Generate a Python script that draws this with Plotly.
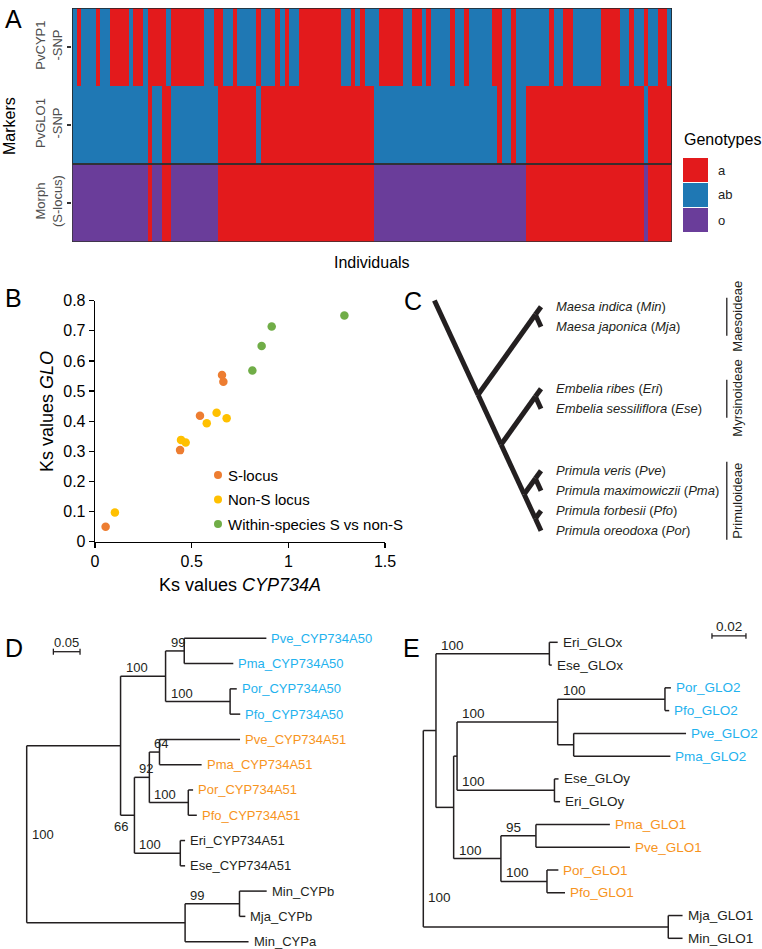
import plotly.graph_objects as go

# ---------------------------------------------------------------- data
GENOTYPES = ["a", "ab", "o"]
GENO_COLORS = ["#E31A1C", "#1F78B4", "#6A3D9A"]
MARKER_LABELS = ["PvCYP1<br>-SNP", "PvGLO1<br>-SNP", "Morph<br>(S-locus)"]

PVCYP1_RUNS = [("ab", 1), ("a", 1), ("ab", 3), ("a", 1), ("ab", 2), ("a", 4), ("ab", 1), ("a", 2),
               ("ab", 1), ("a", 4), ("ab", 1), ("a", 7), ("ab", 2), ("a", 2), ("ab", 2), ("a", 1),
               ("ab", 4), ("a", 1), ("ab", 3), ("a", 1), ("ab", 1), ("a", 1), ("ab", 2), ("a", 9),
               ("ab", 2), ("a", 1), ("ab", 1), ("a", 1), ("ab", 3), ("a", 5), ("ab", 2), ("a", 2),
               ("ab", 1), ("a", 1), ("ab", 4), ("a", 1), ("ab", 2), ("a", 1), ("ab", 5), ("a", 2),
               ("ab", 2), ("a", 1), ("ab", 7), ("a", 1), ("ab", 2), ("a", 2), ("ab", 6), ("a", 4),
               ("ab", 2), ("a", 1), ("ab", 2), ("a", 1), ("ab", 2), ("a", 2), ("ab", 1)]
PVGLO1_RUNS = [("ab", 16), ("a", 1), ("ab", 2), ("a", 2), ("ab", 10), ("a", 8), ("ab", 1), ("a", 24),
               ("ab", 26), ("a", 1), ("ab", 2), ("a", 1), ("ab", 2), ("a", 25), ("ab", 1), ("a", 5)]
MORPH_RUNS = [("o", 16), ("a", 1), ("o", 2), ("a", 2), ("o", 10), ("a", 33), ("o", 32), ("a", 25),
              ("o", 1), ("a", 5)]

S_LOCUS_X = [0.055, 0.440, 0.543, 0.657, 0.664]
S_LOCUS_Y = [0.050, 0.304, 0.418, 0.553, 0.531]
NON_S_X = [0.103, 0.445, 0.469, 0.578, 0.629, 0.681]
NON_S_Y = [0.097, 0.338, 0.329, 0.393, 0.428, 0.410]
WITHIN_X = [0.814, 0.862, 0.914, 1.290]
WITHIN_Y = [0.568, 0.650, 0.714, 0.751]
B_XTICKS = [0, 0.5, 1, 1.5]
B_YTICKS = [0, 0.1, 0.2, 0.3, 0.4, 0.5, 0.6, 0.7, 0.8]

C_NEWICK = "((Min,Mja),((Eri,Ese),((Pve,Pma),(Pfo,Por))));"
C_CODES = ["Min", "Mja", "Eri", "Ese", "Pve", "Pma", "Pfo", "Por"]
C_SPECIES = ["Maesa indica", "Maesa japonica", "Embelia ribes", "Embelia sessiliflora",
             "Primula veris", "Primula maximowiczii", "Primula forbesii", "Primula oreodoxa"]
C_SUBFAMILY = ["Maesoideae", "Maesoideae", "Myrsinoideae", "Myrsinoideae",
               "Primuloideae", "Primuloideae", "Primuloideae", "Primuloideae"]
SUBFAMILIES = ["Maesoideae", "Myrsinoideae", "Primuloideae"]

D_NEWICK = ("((((Pve_CYP734A50:0.154,Pma_CYP734A50:0.092)99:0.035,(Por_CYP734A50:0.0125,"
            "Pfo_CYP734A50:0.019)100:0.121)100:0.0844,(((Pve_CYP734A51:0.151,Pma_CYP734A51:0.079)64:0.019,"
            "(Por_CYP734A51:0.009,Pfo_CYP734A51:0.016)100:0.073)92:0.028,(Eri_CYP734A51:0.009,"
            "Ese_CYP734A51:0.009)100:0.086)66:0.026):0.176,((Min_CYPb:0.051,Mja_CYPb:0.011)99:0.102,"
            "Min_CYPa:0.119):0.297)100;")
D_BLUE = ["Pve_CYP734A50", "Pma_CYP734A50", "Por_CYP734A50", "Pfo_CYP734A50"]
D_ORANGE = ["Pve_CYP734A51", "Pma_CYP734A51", "Por_CYP734A51", "Pfo_CYP734A51"]
D_SCALE = 0.05

E_NEWICK = ("(((Eri_GLOx:0.0049,Ese_GLOx:0.0014)100:0.0667,((((Por_GLO2:0.0035,Pfo_GLO2:0.0025)100:0.0631,"
            "(Pve_GLO2:0.0661,Pma_GLO2:0.0569):0.0094)100:0.0592,(Ese_GLOy:0.0024,Eri_GLOy:0.0033)100:0.0573):0.002,"
            "((Pma_GLO1:0.0435,Pve_GLO1:0.0553)95:0.0206,(Por_GLO1:0.0067,Pfo_GLO1:0.0106)100:0.0271)100:0.0278)"
            ":0.0104):0.00745,(Mja_GLO1:0.0084,Min_GLO1:0.0084):0.1441)100;")
E_BLUE = ["Por_GLO2", "Pfo_GLO2", "Pve_GLO2", "Pma_GLO2"]
E_ORANGE = ["Pma_GLO1", "Pve_GLO1", "Por_GLO1", "Pfo_GLO1"]
E_SCALE = 0.02

# ---------------------------------------------------------------- style
W, H = 762, 949
FONT = "Liberation Sans, Arial, sans-serif"
INK = "#231F20"
CYAN = "#1FB2EE"
ORANGE_TXT = "#F7941D"
S_COL, NS_COL, WS_COL = "#ED7D31", "#FFC000", "#70AD47"


def px(x):
    return x / W


def py(y):
    return 1 - y / H


def ann(text, x, y, xref="paper", yref="paper", size=13, color=INK, xanchor="center",
        yanchor="middle", textangle=0, xshift=0, yshift=0):
    return dict(text=text, x=x, y=y, xref=xref, yref=yref, showarrow=False,
                font=dict(family=FONT, size=size, color=color), xanchor=xanchor,
                yanchor=yanchor, textangle=textangle, xshift=xshift, yshift=yshift)


def parse_newick(s):
    s = s.strip().rstrip(";")
    pos = [0]

    def node():
        children = []
        if s[pos[0]] == "(":
            pos[0] += 1
            while True:
                children.append(node())
                ch = s[pos[0]]
                pos[0] += 1
                if ch == ")":
                    break
        start = pos[0]
        while pos[0] < len(s) and s[pos[0]] not in ":,)":
            pos[0] += 1
        label = s[start:pos[0]]
        length = 0.0
        if pos[0] < len(s) and s[pos[0]] == ":":
            pos[0] += 1
            start = pos[0]
            while pos[0] < len(s) and s[pos[0]] not in ",)":
                pos[0] += 1
            length = float(s[start:pos[0]])
        return {"label": label, "length": length, "children": children}

    return node()


def tips(n):
    if not n["children"]:
        return [n]
    out = []
    for c in n["children"]:
        out += tips(c)
    return out


def internals(n):
    if not n["children"]:
        return []
    out = [n]
    for c in n["children"]:
        out += internals(c)
    return out


fig = go.Figure()
annotations = []
shapes = []

# ---------------------------------------------------------------- A heatmap
code = {g: i for i, g in enumerate(GENOTYPES)}


def expand(runs):
    out = []
    for g, n in runs:
        out += [code[g]] * n
    return out


z = [expand(PVCYP1_RUNS), expand(PVGLO1_RUNS), expand(MORPH_RUNS)]
n_ind = len(z[0])
cs = []
for i, c in enumerate(GENO_COLORS):
    cs += [[i / 3, c], [(i + 1) / 3, c]]
fig.add_trace(go.Heatmap(z=z, x=list(range(n_ind)), y=[0, 1, 2], colorscale=cs, zmin=-0.5, zmax=2.5,
                         showscale=False, hoverinfo="skip", xaxis="x", yaxis="y"))
shapes.append(dict(type="rect", xref="x", yref="y", x0=-0.5, x1=n_ind - 0.5, y0=-0.5, y1=1.5,
                   line=dict(color="#222", width=1.6)))
shapes.append(dict(type="rect", xref="x", yref="y", x0=-0.5, x1=n_ind - 0.5, y0=1.5, y1=2.5,
                   line=dict(color="#333", width=1.4)))
annotations.append(ann("A", px(13.5), py(19), size=25, color="black"))
annotations.append(ann("Markers", px(10), py(126), size=16, color="black", textangle=-90))
annotations.append(ann("Individuals", px(372), py(263), size=16, color="black"))
annotations.append(ann("Genotypes", px(682), py(140), size=16, color="black", xanchor="left"))
for i, g in enumerate(GENOTYPES):
    y0 = 158 + 25 * i
    shapes.append(dict(type="rect", xref="paper", yref="paper", x0=px(683), x1=px(708),
                       y0=py(y0 + 24), y1=py(y0), fillcolor=GENO_COLORS[i], line=dict(width=0)))
    annotations.append(ann(g, px(716), py(y0 + 12), size=13, color="#222", xanchor="left"))

# ---------------------------------------------------------------- B scatter
for xs, ys, col in [(NON_S_X, NON_S_Y, NS_COL), (S_LOCUS_X, S_LOCUS_Y, S_COL), (WITHIN_X, WITHIN_Y, WS_COL)]:
    fig.add_trace(go.Scatter(x=xs, y=ys, mode="markers", marker=dict(size=8.5, color=col),
                             showlegend=False, hoverinfo="skip", xaxis="x2", yaxis="y2"))
annotations.append(ann("B", px(13.5), py(298), size=25, color="black"))
annotations.append(ann("Ks values <i>GLO</i>", px(47), py(412), size=18, color="black", textangle=-90))
annotations.append(ann("Ks values <i>CYP734A</i>", px(240), py(585), size=18, color="black"))
for i, (lab, col) in enumerate([("S-locus", S_COL), ("Non-S locus", NS_COL),
                                ("Within-species S vs non-S", WS_COL)]):
    yc = 475 + 24.5 * i
    shapes.append(dict(type="circle", xref="paper", yref="paper", x0=px(214), x1=px(222),
                       y0=py(yc + 4), y1=py(yc - 4), fillcolor=col, line=dict(width=0)))
    annotations.append(ann(lab, px(226), py(yc), size=15, color="black", xanchor="left"))


def fmt(v):
    return ("%g" % v)


# ---------------------------------------------------------------- C cladogram
c_root = parse_newick(C_NEWICK)
C_GAP = 2.1          # extra rows between subfamilies
SLOPE_UP, SLOPE_DOWN, ROOT_STUB = 1.4, 2.16, 5.33
c_tips = tips(c_root)
for i, t in enumerate(c_tips):
    k = C_CODES.index(t["label"])
    t["x"] = 0.0
    t["y"] = i + C_GAP * SUBFAMILIES.index(C_SUBFAMILY[k])
for n in internals(c_root):
    ty = [t["y"] for t in tips(n)]
    d = (max(ty) - min(ty)) / (SLOPE_UP + SLOPE_DOWN)
    n["x"] = -d
    n["y"] = min(ty) + SLOPE_UP * d
cx, cy = [], []
bottom = max(t["y"] for t in c_tips)
cx += [-ROOT_STUB, c_root["x"], None]
cy += [bottom - SLOPE_DOWN * ROOT_STUB, c_root["y"], None]
for n in internals(c_root):
    for ch in n["children"]:
        cx += [n["x"], ch["x"], None]
        cy += [n["y"], ch["y"], None]
fig.add_trace(go.Scatter(x=cx, y=cy, mode="lines", line=dict(color=INK, width=5),
                         showlegend=False, hoverinfo="skip", xaxis="x3", yaxis="y3"))
for t in c_tips:
    k = C_CODES.index(t["label"])
    annotations.append(ann("<i>%s</i> (<i>%s</i>)" % (C_SPECIES[k], C_CODES[k]), 0, t["y"], "x3", "y3",
                           size=13, xanchor="left", xshift=13))
for sf in SUBFAMILIES:
    rows = [t["y"] for t in c_tips if C_SUBFAMILY[C_CODES.index(t["label"])] == sf]
    shapes.append(dict(type="line", xref="x3", yref="y3", x0=9.29, x1=9.29, y0=min(rows) - 0.45,
                       y1=max(rows) + 0.45, line=dict(color=INK, width=1.3)))
    annotations.append(ann(sf, 9.85, (min(rows) + max(rows)) / 2, "x3", "y3", size=13, textangle=-90))
annotations.append(ann("C", px(413), py(301), size=25, color="black"))


# ---------------------------------------------------------------- D / E phylograms
def draw_tree(newick, xa, ya, blue, orange, scale, scale_x, scale_y, font_size,
              root_label_row=None, below=()):
    root = parse_newick(newick)
    idx = [0]

    def rec(n, x):
        n["x"] = x
        if not n["children"]:
            n["y"] = idx[0]
            idx[0] += 1
        else:
            for c in n["children"]:
                rec(c, x + c["length"])
            n["y"] = (n["children"][0]["y"] + n["children"][-1]["y"]) / 2

    rec(root, 0.0)
    xs, ys = [], []

    def seg(n):
        if n["children"]:
            cys = [c["y"] for c in n["children"]]
            xs.extend([n["x"], n["x"], None])
            ys.extend([min(cys), max(cys), None])
            for c in n["children"]:
                xs.extend([n["x"], c["x"], None])
                ys.extend([c["y"], c["y"], None])
                if c["children"] and c["label"]:
                    if c["label"] in below:
                        annotations.append(ann(c["label"], n["x"], c["y"], xa, ya, size=font_size,
                                               yanchor="top", yshift=-2))
                    else:
                        annotations.append(ann(c["label"], n["x"], c["y"], xa, ya, size=font_size,
                                               xanchor="left", yanchor="bottom", xshift=3, yshift=-1))
                seg(c)

    seg(root)
    fig.add_trace(go.Scatter(x=xs, y=ys, mode="lines", line=dict(color=INK, width=1.5),
                             showlegend=False, hoverinfo="skip", xaxis=xa, yaxis=ya))
    for t in tips(root):
        col = CYAN if t["label"] in blue else (ORANGE_TXT if t["label"] in orange else INK)
        annotations.append(ann(t["label"], t["x"], t["y"], xa, ya, size=font_size, color=col,
                               xanchor="left", xshift=3))
    ry = root["y"] if root_label_row is None else root_label_row
    annotations.append(ann(root["label"], root["x"], ry, xa, ya, size=font_size, xanchor="left", xshift=3))
    # scale bar
    shapes.append(dict(type="line", xref=xa, yref=ya, x0=scale_x, x1=scale_x + scale, y0=scale_y, y1=scale_y,
                       line=dict(color=INK, width=1.3)))
    for xx in (scale_x, scale_x + scale):
        shapes.append(dict(type="line", xref=xa, yref=ya, x0=xx, x1=xx, y0=scale_y - 0.12, y1=scale_y + 0.12,
                           line=dict(color=INK, width=1.3)))
    annotations.append(ann(fmt(scale), scale_x + scale / 2, scale_y, xa, ya, size=font_size,
                           yanchor="bottom", yshift=0))


draw_tree(D_NEWICK, "x4", "y4", D_BLUE, D_ORANGE, D_SCALE, 0.05, 0.53, 13, below=("66",))
draw_tree(E_NEWICK, "x5", "y5", E_BLUE, E_ORANGE, E_SCALE, 0.1698, -0.28, 13.5, root_label_row=11.2)
annotations.append(ann("D", px(14), py(648), size=25, color="black"))
annotations.append(ann("E", px(411), py(647.5), size=25, color="black"))

# ---------------------------------------------------------------- layout
hidden = dict(visible=False, showgrid=False, zeroline=False)
b_axis = dict(showline=True, linecolor="black", linewidth=1.3, ticks="outside", ticklen=5,
              tickcolor="black", tickwidth=1.2, showgrid=False, zeroline=False,
              tickfont=dict(family=FONT, size=16, color="black"))
fig.update_layout(
    width=W, height=H, margin=dict(l=0, r=0, t=0, b=0), template="none",
    paper_bgcolor="white", plot_bgcolor="rgba(0,0,0,0)", showlegend=False,
    font=dict(family=FONT),
    xaxis=dict(domain=[px(72), px(672)], range=[-0.5, n_ind - 0.5], showticklabels=False, ticks="",
               showgrid=False, zeroline=False, showline=False),
    yaxis=dict(domain=[py(242), py(8)], range=[2.5, -0.5], tickvals=[0, 1, 2], ticktext=MARKER_LABELS,
               tickangle=-90, ticks="outside", ticklen=4, tickcolor="#333", tickwidth=1.1,
               tickfont=dict(family=FONT, size=13, color="#4D4D4D"), showgrid=False, zeroline=False,
               showline=False),
    xaxis2=dict(domain=[px(95), px(385)], range=[0, 1.5], tickvals=B_XTICKS,
                ticktext=[fmt(v) for v in B_XTICKS], anchor="y2", **b_axis),
    yaxis2=dict(domain=[py(541.7), py(300.7)], range=[0, 0.8], tickvals=B_YTICKS,
                ticktext=[fmt(v) for v in B_YTICKS], anchor="x2", **b_axis),
    xaxis3=dict(domain=[px(420), px(762)], range=[(420 - 541) / 20, (762 - 541) / 20], anchor="y3", **hidden),
    yaxis3=dict(domain=[py(545), py(290)], range=[(545 - 306.7) / 20, (290 - 306.7) / 20], anchor="x3", **hidden),
    xaxis4=dict(domain=[0, px(381)], range=[-26.7 / 533.3, (381 - 26.7) / 533.3], anchor="y4", **hidden),
    yaxis4=dict(domain=[0, py(610)], range=[(949 - 638.3) / 25.28, (610 - 638.3) / 25.28], anchor="x4", **hidden),
    xaxis5=dict(domain=[px(381), 1], range=[(381 - 423.3) / 1700, (762 - 423.3) / 1700], anchor="y5", **hidden),
    yaxis5=dict(domain=[0, py(610)], range=[(949 - 642.3) / 22.77, (610 - 642.3) / 22.77], anchor="x5", **hidden),
    annotations=annotations, shapes=shapes,
)
fig.write_html("out.html", config={"displayModeBar": False, "staticPlot": True},
               post_script="document.body.style.margin='0';document.body.style.overflow='hidden';")
